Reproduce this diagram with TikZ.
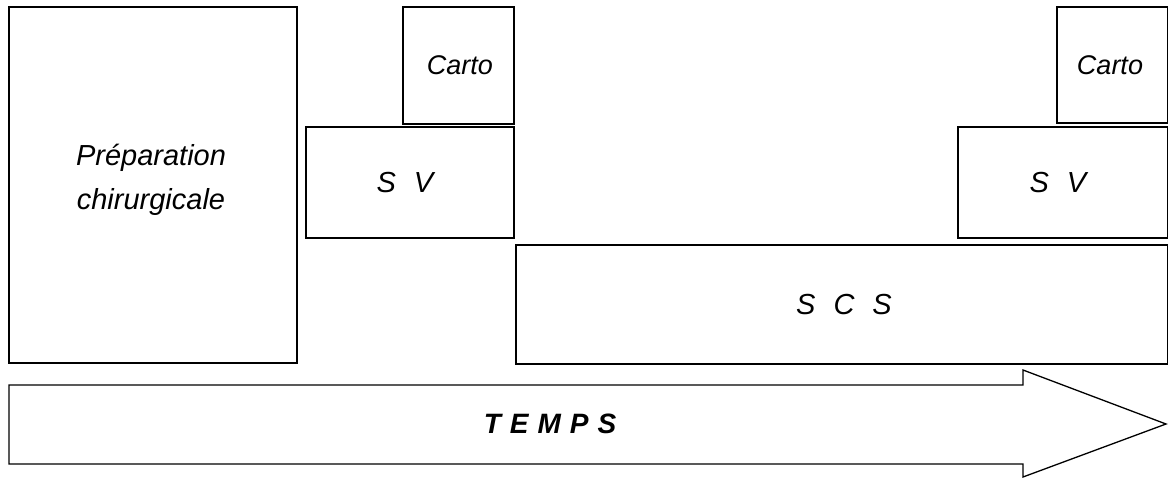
\documentclass[tikz,border=0pt]{standalone}
\usepackage{fontspec}
\setmainfont{Liberation Sans}
\begin{document}
\begin{tikzpicture}[x=1pt,y=-1pt,
  box/.style={draw,line width=1.3pt},
  lbl/.style={font=\fontsize{29}{44}\selectfont\itshape,align=center,inner sep=0pt},
  small/.style={font=\fontsize{27}{30}\selectfont\itshape,inner sep=0pt}]
\useasboundingbox (0,0) rectangle (1168,479);
% boxes
\draw[box] (9,7) rectangle (297,363);
\node[lbl] (prep) at (151,180) {Préparation\\chirurgicale};
\draw[box] (403,7) rectangle (514,124);
\node[small] (carto1) at (460,65) {Carto};
\draw[box] (306,127) rectangle (514,238);
\node[lbl] (sv1) at (405,183) {S\hspace{18pt}V};
\draw[box] (1057,7) rectangle (1167.5,123);
\node[small] (carto2) at (1110,65) {Carto};
\draw[box] (958,127) rectangle (1167.5,238);
\node[lbl] (sv2) at (1058,183) {S\hspace{18pt}V};
\draw[box] (516,245) rectangle (1167.5,364);
\node[lbl] (scs) at (844,305) {S\hspace{18pt}C\hspace{18pt}S};
% time arrow
\draw[box,line join=miter] (9,385) -- (1023,385) -- (1023,370) -- (1166,424)
  -- (1023,477) -- (1023,464) -- (9,464) -- cycle;
\node[font=\fontsize{28}{30}\selectfont\bfseries\itshape,inner sep=0pt] (temps) at (550,424)
  {T\hspace{9pt}E\hspace{9pt}M\hspace{9pt}P\hspace{9pt}S};
\end{tikzpicture}
\end{document}
